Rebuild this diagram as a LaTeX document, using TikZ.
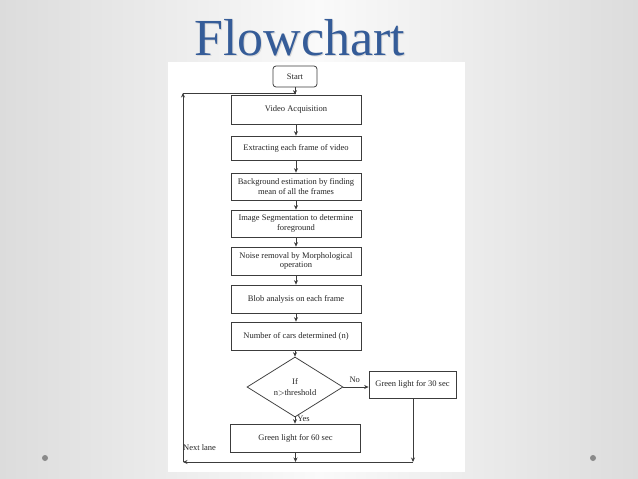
\documentclass[tikz,border=0pt]{standalone}
\usepackage{fontspec}
\setmainfont{Liberation Serif}
\usetikzlibrary{arrows.meta,shapes.geometric}
\definecolor{linec}{HTML}{3C3C3C}
\definecolor{titleblue}{HTML}{355C98}
\definecolor{edgegray}{HTML}{DCDCDC}
\definecolor{dotgray}{HTML}{8A8A8A}
\tikzset{
  box/.style={draw=linec, line width=0.75pt, fill=white, minimum width=130pt, align=center,
    inner sep=1pt, font=\fontsize{8.5}{9.5}\selectfont, text=black!85},
  startbox/.style={box, rounded corners=3pt, minimum width=44pt, minimum height=21pt},
  decbox/.style={draw=linec, line width=0.75pt, fill=white, diamond, minimum width=96pt,
    minimum height=52pt, inner sep=0pt, align=center, font=\fontsize{8.5}{11}\selectfont, text=black!85},
  conn/.style={draw=linec, line width=0.75pt},
  arr/.style={conn, -{Stealth[length=4.5pt,width=4pt]}},
  lbl/.style={font=\fontsize{8.5}{9.5}\selectfont, text=black!85, inner sep=0pt}
}
\begin{document}
\begin{tikzpicture}[x=1pt,y=-1pt]
\useasboundingbox (0,0) rectangle (638,479);
% slide background
\shade[left color=edgegray, right color=edgegray, middle color=white!98!black] (0,0) rectangle (638,479);
% white panel of the flowchart picture
\fill[white] (168,62) rectangle (465,472);
% title
\node[text=black!15, font=\fontsize{52}{56}\selectfont] at (301,39) {Flowchart};
\node[text=titleblue, font=\fontsize{52}{56}\selectfont] (title) at (300,37.5) {Flowchart};
% bullets
\fill[dotgray] (45,458) circle (3);
\fill[dotgray] (593,458) circle (3);

% nodes
\node[startbox] (start) at (295,76.5) {Start};
\node[box, minimum height=29pt] (video) at (296,109.5) {Video Acquisition};
\node[box, minimum height=24pt] (extract) at (296,148) {Extracting each frame of video};
\node[box, minimum height=27pt] (bg) at (296,186.5) {Background estimation by finding\\mean of all the frames};
\node[box, minimum height=27pt] (seg) at (296,223.5) {Image Segmentation to determine\\foreground};
\node[box, minimum height=28pt] (noise) at (296,261) {Noise removal by Morphological\\operation};
\node[box, minimum height=28pt] (blob) at (296,299) {Blob analysis on each frame};
\node[box, minimum height=28pt] (num) at (296,336) {Number of cars determined (n)};
\node[decbox] (dec) at (295,387) {If\\n$>$threshold};
\node[box, minimum width=87pt, minimum height=27pt] (g30) at (412.5,384.5) {Green light for 30 sec};
\node[box, minimum height=28pt] (g60) at (295.5,438) {Green light for 60 sec};

% loop coordinates
\coordinate (lt) at (183,93);
\coordinate (lb) at (183,462);
\coordinate (rb) at (413,462);

% connectors
\draw[arr] (start) -- (start |- video.north);
\draw[arr] (video) -- (video |- extract.north);
\draw[arr] (extract) -- (extract |- bg.north);
\draw[arr] (bg) -- (bg |- seg.north);
\draw[arr] (seg) -- (seg |- noise.north);
\draw[arr] (noise) -- (noise |- blob.north);
\draw[arr] (blob) -- (blob |- num.north);
\draw[arr] (num.south -| dec.north) -- (dec.north);
\draw[arr] (dec.east) -- (g30.west |- dec.east) node[lbl, pos=0.45, above=4pt] {No};
\draw[arr] (dec.south) -- (dec.south |- g60.north) node[lbl, pos=0.3, right=2pt] {Yes};
\draw[arr] (g60.south) -- (g60.south |- lb);
\draw[arr] (g30.south -| rb) -- (rb);
\draw[arr] (rb) -- (lb);
\draw[arr] (lb) -- (lt);
\draw[conn] (lt) -- (video.north |- lt);
\node[lbl, anchor=west] (next) at (183,448) {Next lane};
\end{tikzpicture}
\end{document}
